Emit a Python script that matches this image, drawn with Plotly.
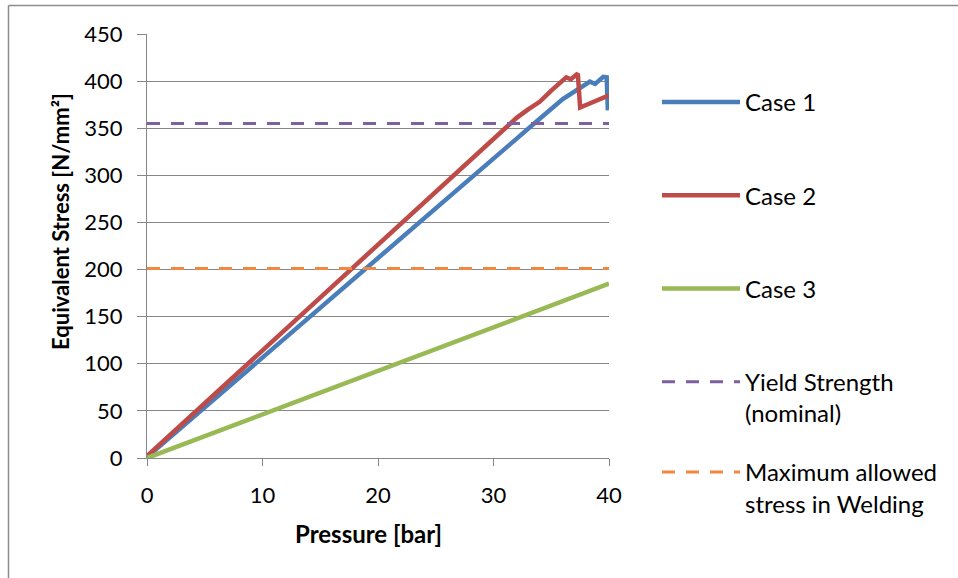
import plotly.graph_objects as go

# ---- data ----
case1_x = [0, 5, 10, 15, 20, 25, 30, 34, 36, 37.75, 38.35, 38.8, 39.5, 39.8, 39.9]
case1_y = [1, 54, 106, 159, 212, 265, 318, 360, 381, 394, 399.5, 397, 404.5, 404, 369]

case2_x = [0, 5, 10, 15, 20, 25, 30, 32, 33, 34, 35, 35.8, 36.3, 36.7, 37.3, 37.5, 40]
case2_y = [2, 58, 114, 170, 226, 283, 339, 361, 370, 378, 390, 399, 404, 402, 408, 372, 385]

case3_x = [0, 10, 20, 30, 40]
case3_y = [0, 46, 92.5, 139, 185]

yield_x = [0, 40]
yield_y = [355, 355]

weld_x = [0, 40]
weld_y = [201, 201]

x_ticks = [0, 10, 20, 30, 40]
y_ticks = [0, 50, 100, 150, 200, 250, 300, 350, 400, 450]

FONT = "Lato"
GRID = "#878787"

W, H = 958, 578
ML, MR, MT, MB = 147, 349, 34, 120
PW, PH = W - ML - MR, H - MT - MB


def px_x(p):
    return (p - ML) / PW


def px_y(p):
    return (H - MB - p) / PH


fig = go.Figure()
fig.add_trace(go.Scatter(x=case1_x, y=case1_y, mode="lines", name="Case 1",
                         line=dict(color="#4A7EBB", width=4.5), legendgroup="a"))
fig.add_trace(go.Scatter(x=case2_x, y=case2_y, mode="lines", name="Case 2",
                         line=dict(color="#BE4B48", width=4.5), legendgroup="b"))
fig.add_trace(go.Scatter(x=case3_x, y=case3_y, mode="lines", name="Case 3",
                         line=dict(color="#98B954", width=4.5), legendgroup="c"))
fig.add_trace(go.Scatter(x=yield_x, y=yield_y, mode="lines", name="Yield Strength<br>(nominal)",
                         line=dict(color="#7D60A0", width=3, dash="13px,11px"), legendgroup="d"))
fig.add_trace(go.Scatter(x=weld_x, y=weld_y, mode="lines", name="Maximum allowed<br>stress in Welding",
                         line=dict(color="#F0883F", width=3, dash="13px,11px"), legendgroup="e",
                         legend="legend2"))

legend_common = dict(
    font=dict(family=FONT, size=24, color="#000000"),
    bgcolor="rgba(0,0,0,0)",
    itemwidth=78,
    valign="top",
    xanchor="left", yanchor="top",
    traceorder="grouped",
    tracegroupgap=59,
    itemclick=False, itemdoubleclick=False,
)

border = dict(color="#8C8C8C", width=1.5)

fig.update_layout(
    width=W, height=H,
    margin=dict(l=ML, r=MR, t=MT, b=MB, autoexpand=False),
    paper_bgcolor="white", plot_bgcolor="white",
    font=dict(family=FONT, size=22, color="#000000"),
    showlegend=True,
    legend=dict(x=px_x(657), y=px_y(80), **legend_common),
    legend2=dict(x=px_x(657), y=px_y(450), **legend_common),
    xaxis=dict(
        range=[0, 40], tickvals=x_ticks, ticktext=[str(v) for v in x_ticks],
        showgrid=False, zeroline=False,
        showline=True, linecolor=GRID, linewidth=1.3,
        ticks="outside", ticklen=7, tickcolor=GRID, tickwidth=1.3,
        tickfont=dict(family=FONT, size=22, color="#000000"),
        ticklabelstandoff=10,
    ),
    yaxis=dict(
        range=[0, 450], tickvals=y_ticks, ticktext=[str(v) for v in y_ticks],
        showgrid=True, gridcolor=GRID, gridwidth=1.3,
        zeroline=False,
        showline=True, linecolor=GRID, linewidth=1.3,
        ticks="outside", ticklen=9, tickcolor=GRID, tickwidth=1.3,
        tickfont=dict(family=FONT, size=22, color="#000000"),
        ticklabelstandoff=10,
    ),
    annotations=[
        dict(text="<b>Pressure [bar]</b>", xref="paper", yref="paper",
             x=px_x(368), y=px_y(533), showarrow=False,
             font=dict(family=FONT, size=24, color="#000000"),
             xanchor="center", yanchor="middle"),
        dict(text="<b>Equivalent Stress [N/mm²]</b>", xref="paper", yref="paper",
             x=px_x(60), y=px_y(222), showarrow=False, textangle=-90,
             font=dict(family=FONT, size=22, color="#000000"),
             xanchor="center", yanchor="middle"),
    ],
    shapes=[
        dict(type="line", xref="paper", yref="paper",
             x0=px_x(8.5), y0=px_y(700), x1=px_x(8.5), y1=px_y(5.5),
             line=border, layer="below"),
        dict(type="line", xref="paper", yref="paper",
             x0=px_x(8.5), y0=px_y(5.5), x1=px_x(1300), y1=px_y(5.5),
             line=border, layer="below"),
    ],
)

fig.write_html("out.html", config={"displayModeBar": False},
               post_script="document.body.style.margin='0px';")
